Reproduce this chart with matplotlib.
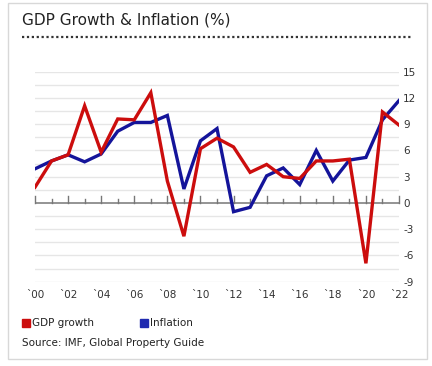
import matplotlib
matplotlib.use("Agg")
import matplotlib.pyplot as plt
from matplotlib.patches import Rectangle
from matplotlib.lines import Line2D

years = list(range(2000, 2023))
gdp_growth = [1.8, 4.8, 5.5, 11.1, 5.8, 9.6, 9.5, 12.6, 2.5, -3.8, 6.2, 7.4, 6.4,
              3.5, 4.4, 3.0, 2.8, 4.8, 4.8, 5.0, -6.9, 10.4, 8.9]
inflation = [3.9, 4.8, 5.5, 4.7, 5.6, 8.2, 9.2, 9.2, 10.0, 1.6, 7.1, 8.5, -1.0,
             -0.5, 3.1, 4.0, 2.1, 6.0, 2.5, 4.9, 5.2, 9.5, 11.7]
y_ticks = [-9, -6, -3, 0, 3, 6, 9, 12, 15]
x_tick_years = list(range(2000, 2023, 2))
x_tick_labels = ["`" + str(y)[2:] for y in x_tick_years]

title = "GDP Growth & Inflation (%)"
source = "Source: IMF, Global Property Guide"

W, H = 432, 366
fig = plt.figure(figsize=(W / 100, H / 100), dpi=100)
fig.patch.set_facecolor("white")

# outer border
fig.add_artist(Rectangle((8 / W, 1 - 359 / H), (427 - 8) / W, (359 - 3) / H,
                         transform=fig.transFigure, fill=False,
                         edgecolor="#d8d8d8", linewidth=1))

fig.text(22 / W, 1 - 20 / H, title, fontsize=11, color="#222222",
         ha="left", va="center", family="DejaVu Sans")
fig.add_artist(Line2D([22 / W, 413 / W], [1 - 37 / H, 1 - 37 / H],
                      transform=fig.transFigure, color="#333333",
                      linestyle=(0, (1, 1.2)), linewidth=1.6))

ax = fig.add_axes([35 / W, 1 - 281.7 / H, (399 - 35) / W, (281.7 - 71.7) / H])
ax.set_xlim(2000, 2022)
ax.set_ylim(-9, 15)

# gridlines every 1.5
g = -9.0
while g <= 15.001:
    if abs(g) > 1e-9:
        ax.axhline(g, color="#e6e6e6", linewidth=1, zorder=0)
    g += 1.5

ax.axhline(0, color="#777777", linewidth=1.1, zorder=1)
for yr in years:
    h = 0.8 if yr % 2 == 0 else 0.45
    ax.plot([yr, yr], [0, h], color="#777777", linewidth=1, zorder=1,
            clip_on=False)

ax.plot(years, inflation, color="#14149a", linewidth=2.4, zorder=3,
        solid_joinstyle="miter")
ax.plot(years, gdp_growth, color="#cc0d0d", linewidth=2.4, zorder=4,
        solid_joinstyle="miter")

for s in ax.spines.values():
    s.set_visible(False)
ax.set_yticks(y_ticks)
ax.set_yticklabels([str(v) for v in y_ticks])
ax.yaxis.tick_right()
ax.tick_params(axis="y", length=0, pad=3, labelsize=7.5, labelcolor="#333333")
ax.set_xticks(x_tick_years)
ax.set_xticklabels(x_tick_labels)
ax.tick_params(axis="x", length=0, pad=6, labelsize=7.5, labelcolor="#333333")

# legend
fig.add_artist(Rectangle((22 / W, 1 - 327 / H), 8 / W, 8 / H,
                         transform=fig.transFigure, color="#cc0d0d"))
fig.text(32 / W, 1 - 323 / H, "GDP growth", fontsize=7.5, color="#222222",
         ha="left", va="center")
fig.add_artist(Rectangle((140 / W, 1 - 327 / H), 8 / W, 8 / H,
                         transform=fig.transFigure, color="#1f2ab0"))
fig.text(150 / W, 1 - 323 / H, "Inflation", fontsize=7.5, color="#222222",
         ha="left", va="center")
fig.text(22 / W, 1 - 343 / H, source, fontsize=7.5, color="#222222",
         ha="left", va="center")

fig.savefig("out.png", dpi=100, facecolor="white")
